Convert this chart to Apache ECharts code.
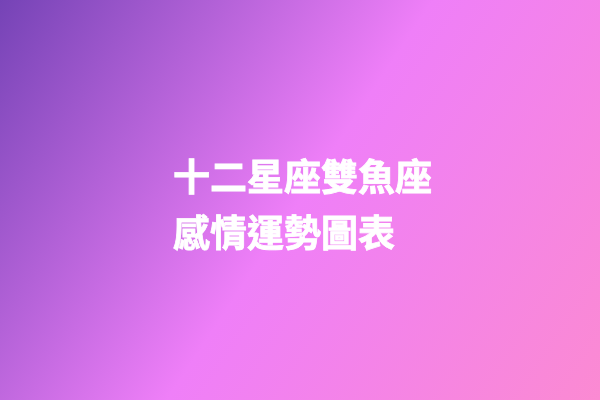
<!DOCTYPE html>
<html>
<head>
<meta charset="utf-8">
<title>十二星座雙魚座感情運勢圖表</title>
<style>
html, body { margin: 0; padding: 0; }
#main { width: 600px; height: 400px; }
</style>
</head>
<body>
<div id="main"></div>
<script src="https://cdn.jsdelivr.net/npm/echarts@6/dist/echarts.min.js"></script>
<script type="text/javascript">
// 標題文字
var titleLines = ['十二星座雙魚座', '感情運勢圖表'];
// 背景漸層色
var bgStops = [
    { offset: 0, color: '#7543b6' },
    { offset: 0.5, color: '#ef7ff8' },
    { offset: 1, color: '#fb8ad2' }
];

var myChart = echarts.init(document.getElementById('main'));
var option = {
    backgroundColor: new echarts.graphic.LinearGradient(0, 0, 1, 1, bgStops),
    title: {
        text: titleLines.join('\n'),
        left: 168,
        top: 144,
        textStyle: {
            color: '#ffffff',
            fontSize: 37,
            fontWeight: 'bold',
            lineHeight: 56,
            fontFamily: 'Noto Sans CJK TC',
            // 字再粗一點
            textBorderColor: '#ffffff',
            textBorderWidth: 0.8
        }
    }
};
myChart.setOption(option);
</script>
</body>
</html>
